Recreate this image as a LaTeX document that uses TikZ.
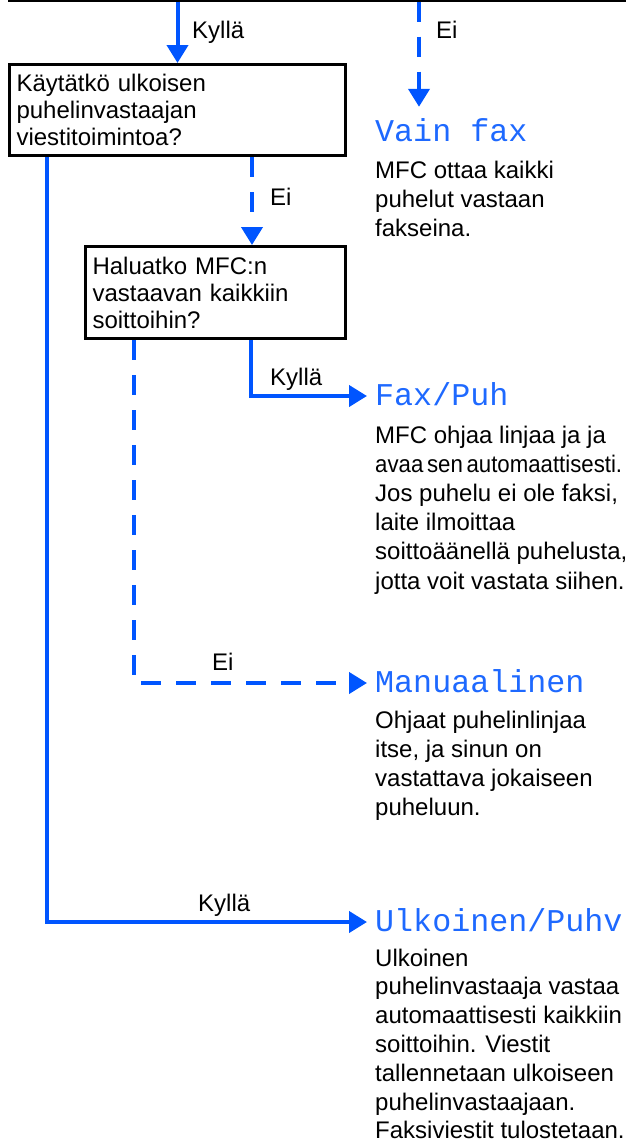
\documentclass[tikz,border=0pt]{standalone}
\usepackage{fontspec}
\usepackage{graphicx}
\setmainfont{Liberation Sans}
\newfontfamily\lcdfont{Liberation Mono}
\usetikzlibrary{arrows.meta}
\definecolor{flowblue}{RGB}{0,85,255}
\definecolor{lcdblue}{RGB}{30,105,255}
\begin{document}
\begin{tikzpicture}[x=1pt,y=-1pt,
  conn/.style={draw=flowblue, line width=4pt, -{Triangle[length=18pt,width=21pt]}},
  dashconn/.style={conn, dash pattern=on 20pt off 15pt},
  qbox/.style={draw=black, line width=3pt, anchor=north west, align=left,
    inner xsep=7pt, inner ysep=0pt, font=\fontsize{24}{27}\selectfont},
  lbl/.style={anchor=base west, inner sep=0pt, font=\fontsize{24}{29}\selectfont},
  head/.style={anchor=west, inner xsep=8pt, inner ysep=0pt, text height=18pt,
    text depth=0pt, text=lcdblue, font=\fontsize{31.7}{32}\lcdfont},
  body/.style={anchor=base west, inner sep=0pt, font=\fontsize{24}{29.2}\selectfont},
  bodyt/.style={anchor=base west, inner sep=0pt, font=\fontsize{24}{28.8}\selectfont}
]
\useasboundingbox (0,0) rectangle (626,1144);
\clip (0,0) rectangle (626,1144);

% partially visible box at the top
\node[draw=black, line width=3pt, minimum width=800pt, minimum height=100pt,
      anchor=south west, inner sep=0pt] (top) at (8,1.5) {};

% x positions of connectors
\coordinate (xei) at (419,0);
\coordinate (xd1) at (252,0);
\coordinate (xs1) at (47,0);
\coordinate (xs2) at (251,0);
\coordinate (xd2) at (134,0);

% question boxes
\node[qbox, text width=322pt, minimum height=91pt] (box1) at (8,63)
  {Käytätkö ulkoisen\\puhelinvastaajan\\viestitoimintoa?};
\node[qbox, text width=246pt, minimum height=92pt] (box2) at (84,245)
  {Haluatko MFC:n\\vastaavan kaikkiin\\soittoihin?};

% result headings
\node[head] (vain) at (367,132) {Vain fax};
\node[head] (faxpuh) at (367,396) {Fax/Puh};
\node[head] (manual) at (367,683) {Manuaalinen};
\node[head] (ulk) at (367,922) {Ulkoinen/Puhv};

% result descriptions
\node[body] (vainbody) at (375,178) {\begin{tabular}[t]{@{}l@{}}
  MFC ottaa kaikki\\ puhelut vastaan\\ fakseina.\end{tabular}};
\node[body] (faxbody) at (375,443) {\begin{tabular}[t]{@{}l@{}}
  MFC ohjaa linjaa ja ja\\
  \resizebox{247pt}{\height}{avaa\hspace{4pt}sen\hspace{4pt}automaattisesti.}\\
  Jos puhelu ei ole faksi,\\ laite ilmoittaa\\
  soittoäänellä puhelusta,\\ jotta voit vastata siihen.\end{tabular}};
\node[body] (manbody) at (375,728) {\begin{tabular}[t]{@{}l@{}}
  Ohjaat puhelinlinjaa\\ itse, ja sinun on\\ vastattava jokaiseen\\ puheluun.\end{tabular}};
\node[bodyt] (ulkbody) at (375,966) {\begin{tabular}[t]{@{}l@{}}
  Ulkoinen\\ puhelinvastaaja vastaa\\ automaattisesti kaikkiin\\
  soittoihin. Viestit\\ tallennetaan ulkoiseen\\ puhelinvastaajaan.\\
  Faksiviestit tulostetaan.\end{tabular}};

% connectors
\draw[conn] (box1.north |- top.south) -- (box1.north);
\draw[dashconn, shorten >=16pt] (top.south -| xei) -- (vain.north -| xei);
\draw[dashconn] (box1.south -| xd1) -- (box2.north -| xd1);
\draw[conn] (box1.south -| xs1) |- (ulk.west);
\draw[conn] (box2.south -| xs2) |- (faxpuh.west);
\draw[dashconn] (box2.south -| xd2) |- (manual.west);

% connector labels
\node[lbl] (l1) at (192,38) {Kyllä};
\node[lbl] (l2) at (436,38) {Ei};
\node[lbl] (l3) at (270,205) {Ei};
\node[lbl] (l4) at (270,385) {Kyllä};
\node[lbl] (l5) at (212,670) {Ei};
\node[lbl] (l6) at (198,911) {Kyllä};
\end{tikzpicture}
\end{document}
